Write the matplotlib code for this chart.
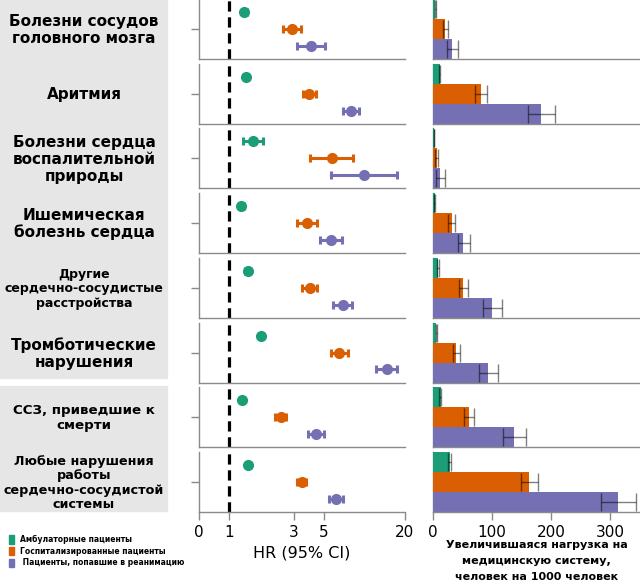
import numpy as np
import matplotlib
matplotlib.use('Agg')
import matplotlib.pyplot as plt
from matplotlib.patches import Rectangle, Patch

categories = ['Болезни сосудов\nголовного мозга',
              'Аритмия',
              'Болезни сердца\nвоспалительной\nприроды',
              'Ишемическая\nболезнь сердца',
              'Другие\nсердечно-сосудистые\nрасстройства',
              'Тромботические\nнарушения',
              'ССЗ, приведшие к\nсмерти',
              'Любые нарушения\nработы\nсердечно-сосудистой\nсистемы']
label_sizes = [11, 11, 11, 11, 9, 11, 9.6, 9.2]

groups = ['Амбулаторные пациенты',
          'Госпитализированные пациенты',
          ' Пациенты, попавшие в реанимацию']
colors = ['#1b9e77', '#d95f02', '#7570b3']

# hazard ratios (95% CI)
hr_out = [1.30, 1.34, 1.50, 1.23, 1.37, 1.73, 1.25, 1.39]
hr_out_lo = [1.25, 1.29, 1.26, 1.19, 1.32, 1.67, 1.20, 1.34]
hr_out_hi = [1.35, 1.39, 1.78, 1.28, 1.42, 1.79, 1.30, 1.44]
hr_hosp = [2.92, 3.89, 5.75, 3.78, 3.95, 6.55, 2.41, 3.45]
hr_hosp_lo = [2.50, 3.55, 3.97, 3.20, 3.47, 5.69, 2.19, 3.20]
hr_hosp_hi = [3.43, 4.38, 8.31, 4.45, 4.50, 7.55, 2.66, 3.71]
hr_icu = [4.02, 7.95, 9.92, 5.69, 6.94, 14.6, 4.38, 6.19]
hr_icu_lo = [3.17, 7.01, 5.65, 4.71, 5.91, 12.2, 3.82, 5.52]
hr_icu_hi = [5.13, 9.16, 17.6, 6.86, 8.18, 17.5, 5.02, 6.97]

# burden per 1000 persons
bur_out = [4.0, 11.3, 1.5, 3.4, 8.5, 5.6, 13.0, 28.2]
bur_out_lo = [3.0, 9.5, 1.0, 2.5, 7.5, 4.5, 10.0, 26.0]
bur_out_hi = [5.0, 12.5, 2.0, 4.0, 9.5, 6.5, 14.0, 30.4]
bur_hosp = [19.7, 80.6, 6.8, 31.6, 51.3, 39.5, 60.3, 163.0]
bur_hosp_lo = [17.0, 71.6, 4.0, 26.0, 44.5, 34.4, 52.4, 148.8]
bur_hosp_hi = [25.0, 91.3, 9.0, 37.0, 59.8, 45.0, 68.8, 177.0]
bur_icu = [31.6, 182.0, 11.3, 51.3, 99.8, 93.0, 136.4, 313.0]
bur_icu_lo = [23.7, 161.0, 5.6, 42.3, 84.6, 77.8, 118.4, 283.5]
bur_icu_hi = [42.0, 207.0, 20.3, 63.0, 117.0, 110.5, 157.3, 342.7]

hr_ticks = [0.6, 1, 3, 5, 20]
hr_ticklabels = ['0', '1', '3', '5', '20']
bur_ticks = [0, 100, 200, 300]

W, H = 640, 584
fig = plt.figure(figsize=(W / 100, H / 100), dpi=100)

# grey label boxes
for y0, y1 in [(0, 378), (386, 511)]:
    fig.patches.append(Rectangle((0, 1 - y1 / H), 167 / W, (y1 - y0) / H,
                                 transform=fig.transFigure, color='#e6e6e6',
                                 zorder=0))

hr = [(hr_out, hr_out_lo, hr_out_hi), (hr_hosp, hr_hosp_lo, hr_hosp_hi),
      (hr_icu, hr_icu_lo, hr_icu_hi)]
bur = [(bur_out, bur_out_lo, bur_out_hi), (bur_hosp, bur_hosp_lo, bur_hosp_hi),
       (bur_icu, bur_icu_lo, bur_icu_hi)]

spine_c = '#8a8a8a'
n = len(categories)
for i in range(n):
    top = -1 + 64.7 * i
    h = 60
    b = 1 - (top + h) / H
    ax = fig.add_axes([199 / W, b, 206 / W, h / H])
    bx = fig.add_axes([433 / W, b, 207 / W, h / H])

    for j in range(3):
        v, lo, hi = hr[j]
        ax.errorbar([v[i]], [2 - j], xerr=[[v[i] - lo[i]], [hi[i] - v[i]]],
                    fmt='o', color=colors[j], ms=7, elinewidth=2.2,
                    capsize=2.6, capthick=2.2, zorder=3)
        v, lo, hi = bur[j]
        bx.barh(2 - j, v[i], height=1.0, color=colors[j], zorder=2)
        bx.errorbar([(lo[i] + hi[i]) / 2], [2 - j], xerr=[(hi[i] - lo[i]) / 2],
                    fmt='none', ecolor='black', alpha=0.5, elinewidth=1,
                    capsize=6.8, capthick=1, zorder=3)

    ax.axvline(1, color='black', lw=2.3, ls=(0, (3.2, 1.8)), zorder=1)
    ax.set_xscale('log')
    ax.set_xlim(0.6, 20)
    ax.set_ylim(-0.77, 2.77)
    ax.set_yticks([1])
    ax.set_yticklabels([])
    ax.minorticks_off()
    bx.set_xlim(0, 350)
    bx.set_ylim(-0.5, 2.5)
    bx.set_yticks([])

    for a in (ax, bx):
        a.spines['top'].set_visible(False)
        a.spines['right'].set_visible(False)
        for s in ('left', 'bottom'):
            a.spines[s].set_color(spine_c)
            a.spines[s].set_linewidth(1)
        a.tick_params(colors=spine_c, length=6, width=1, labelcolor='black',
                      labelsize=11)
        a.set_facecolor('none')
    bx.spines['left'].set_zorder(1)

    if i == n - 1:
        ax.set_xticks(hr_ticks)
        ax.set_xticklabels(hr_ticklabels)
        ax.set_xlabel('HR (95% CI)', fontsize=11.5, labelpad=4)
        bx.set_xticks(bur_ticks)
        bx.set_xlabel('Увеличившаяся нагрузка на\nмедицинскую систему,\n'
                      'человек на 1000 человек', fontsize=8, fontweight='bold',
                      linespacing=1.75, labelpad=0)
    else:
        ax.set_xticks([])
        bx.set_xticks([])

    fig.text(84 / W, 1 - (top + h / 2 + 1) / H, categories[i], ha='center',
             va='center', fontsize=label_sizes[i], fontweight='bold',
             linespacing=1.15)

handles = [Patch(color=c) for c in colors]
fig.legend(handles, groups, loc='upper left', bbox_to_anchor=(0.01, 1 - 532 / H),
           frameon=False, prop={'size': 5.5, 'weight': 'bold'},
           handlelength=0.6, handleheight=1.3, labelspacing=0.35,
           handletextpad=0.8, borderaxespad=0)

fig.savefig('out.png', dpi=100)
